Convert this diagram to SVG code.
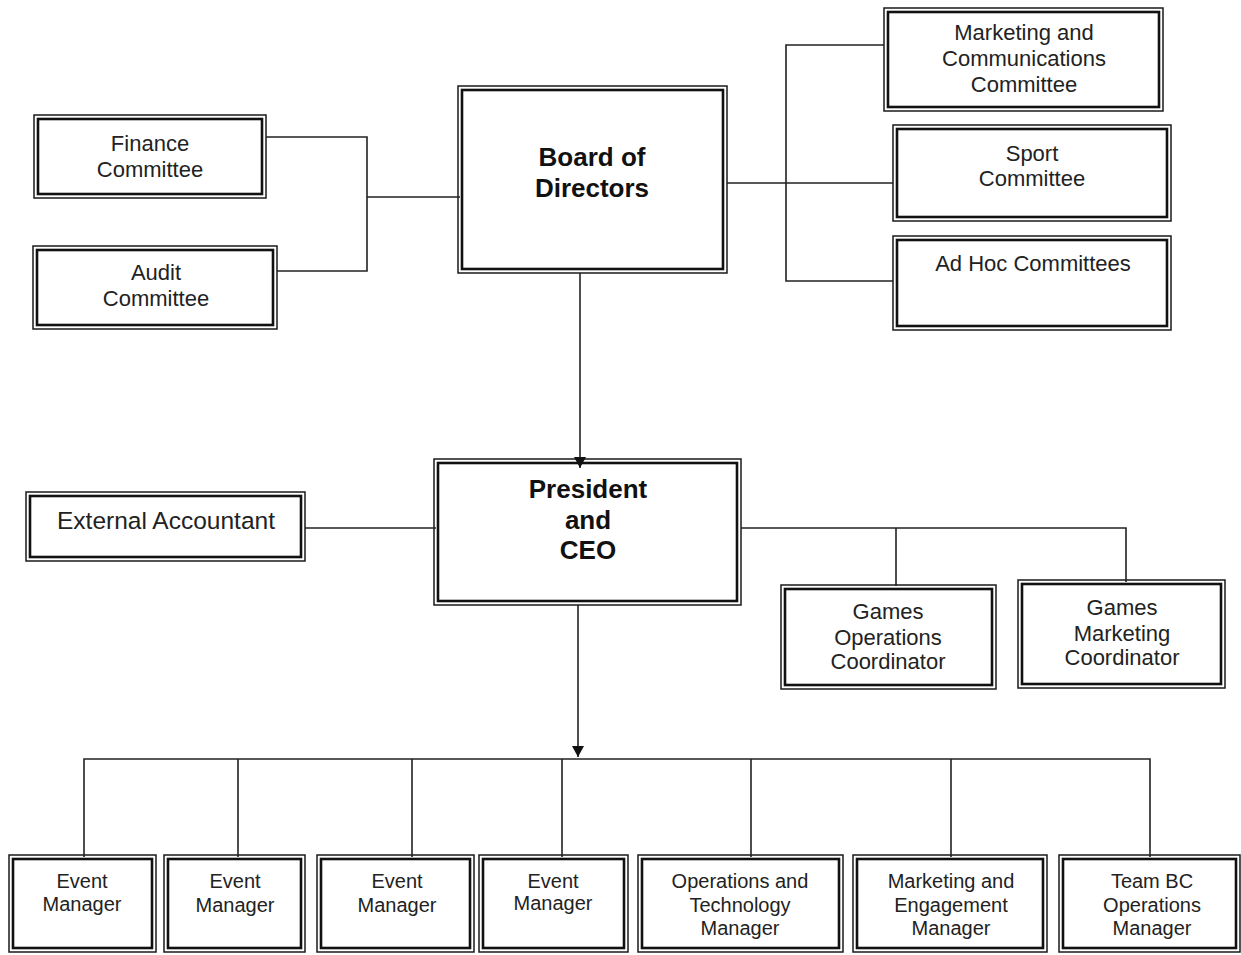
<svg xmlns="http://www.w3.org/2000/svg" width="1241" height="955" viewBox="0 0 1241 955">
<defs>
<style>
.o{fill:#fff;stroke:#1a1a1a;stroke-width:1.5}
.i{fill:#fff;stroke:#111;stroke-width:2.6}
.t{font-family:"Liberation Sans",Arial,sans-serif;font-size:22px;fill:#222;text-anchor:middle}
.s{font-family:"Liberation Sans",Arial,sans-serif;font-size:20px;fill:#222;text-anchor:middle}
.b{font-family:"Liberation Sans",Arial,sans-serif;font-size:26px;font-weight:bold;fill:#111;text-anchor:middle}
.c{fill:none;stroke:#222;stroke-width:1.6}
</style>
<marker id="ah" markerWidth="14" markerHeight="14" refX="11" refY="6" orient="auto" markerUnits="userSpaceOnUse">
<path d="M0,0 L11,6 L0,12 Z" fill="#111"/>
</marker>
</defs>
<rect width="1241" height="955" fill="#fff"/>
<g id="finance"><rect class="o" x="34" y="115" width="232" height="83"/><rect class="i" x="38" y="119" width="224" height="75"/><text class="t" x="150" y="151">Finance</text><text class="t" x="150" y="177">Committee</text></g>
<g id="audit"><rect class="o" x="33" y="246" width="244" height="83"/><rect class="i" x="37" y="250" width="236" height="75"/><text class="t" x="156" y="280">Audit</text><text class="t" x="156" y="306">Committee</text></g>
<g id="board"><rect class="o" x="458" y="86" width="269" height="187"/><rect class="i" x="462" y="90" width="261" height="179"/><text class="b" x="592" y="166">Board of</text><text class="b" x="592" y="197">Directors</text></g>
<g id="mcc"><rect class="o" x="884" y="8" width="279" height="103"/><rect class="i" x="888" y="12" width="271" height="95"/><text class="t" x="1024" y="40">Marketing and</text><text class="t" x="1024" y="66">Communications</text><text class="t" x="1024" y="92">Committee</text></g>
<g id="sport"><rect class="o" x="893" y="125" width="278" height="96"/><rect class="i" x="897" y="129" width="270" height="88"/><text class="t" x="1032" y="161">Sport</text><text class="t" x="1032" y="186">Committee</text></g>
<g id="adhoc"><rect class="o" x="893" y="236" width="278" height="94"/><rect class="i" x="897" y="240" width="270" height="86"/><text class="t" x="1033" y="271">Ad Hoc Committees</text></g>
<g id="extacc"><rect class="o" x="26" y="492" width="279" height="69"/><rect class="i" x="30" y="496" width="271" height="61"/><text class="t" x="166" y="529" style="font-size:24.5px">External Accountant</text></g>
<g id="pres"><rect class="o" x="434" y="459" width="307" height="146"/><rect class="i" x="438" y="463" width="299" height="138"/><text class="b" x="588" y="498">President</text><text class="b" x="588" y="529">and</text><text class="b" x="588" y="559">CEO</text></g>
<g id="gops"><rect class="o" x="781" y="585" width="215" height="104"/><rect class="i" x="785" y="589" width="207" height="96"/><text class="t" x="888" y="619">Games</text><text class="t" x="888" y="645">Operations</text><text class="t" x="888" y="669">Coordinator</text></g>
<g id="gmkt"><rect class="o" x="1018" y="580" width="207" height="108"/><rect class="i" x="1022" y="584" width="199" height="100"/><text class="t" x="1122" y="615">Games</text><text class="t" x="1122" y="641">Marketing</text><text class="t" x="1122" y="665">Coordinator</text></g>
<g id="em1"><rect class="o" x="9" y="855" width="147" height="97"/><rect class="i" x="13" y="859" width="139" height="89"/><text class="s" x="82" y="888">Event</text><text class="s" x="82" y="911">Manager</text></g>
<g id="em2"><rect class="o" x="164" y="855" width="141" height="97"/><rect class="i" x="168" y="859" width="133" height="89"/><text class="s" x="235" y="888">Event</text><text class="s" x="235" y="912">Manager</text></g>
<g id="em3"><rect class="o" x="317" y="855" width="157" height="97"/><rect class="i" x="321" y="859" width="149" height="89"/><text class="s" x="397" y="888">Event</text><text class="s" x="397" y="912">Manager</text></g>
<g id="em4"><rect class="o" x="479" y="855" width="149" height="97"/><rect class="i" x="483" y="859" width="141" height="89"/><text class="s" x="553" y="888">Event</text><text class="s" x="553" y="910">Manager</text></g>
<g id="otm"><rect class="o" x="638" y="855" width="205" height="97"/><rect class="i" x="642" y="859" width="197" height="89"/><text class="s" x="740" y="888">Operations and</text><text class="s" x="740" y="912">Technology</text><text class="s" x="740" y="935">Manager</text></g>
<g id="mem"><rect class="o" x="853" y="855" width="194" height="97"/><rect class="i" x="857" y="859" width="186" height="89"/><text class="s" x="951" y="888">Marketing and</text><text class="s" x="951" y="912">Engagement</text><text class="s" x="951" y="935">Manager</text></g>
<g id="tbc"><rect class="o" x="1059" y="855" width="181" height="97"/><rect class="i" x="1063" y="859" width="173" height="89"/><text class="s" x="1152" y="888">Team BC</text><text class="s" x="1152" y="912">Operations</text><text class="s" x="1152" y="935">Manager</text></g>
<g id="connectors">
<path class="c" d="M266,137 H367 V271 H277 M367,197 H460"/>
<path class="c" d="M727,183 H893 M884,45 H786 V281 H893"/>
<path class="c" d="M580,273 V468" marker-end="url(#ah)"/>
<path class="c" d="M305,528 H436"/>
<path class="c" d="M741,528 H1126 V582 M896,528 V586"/>
<path class="c" d="M578,605 V757" marker-end="url(#ah)"/>
<path class="c" d="M84,857 V759 H1150 V857 M238,759 V857 M412,759 V857 M562,759 V857 M751,759 V857 M951,759 V857"/>
</g>
</svg>
